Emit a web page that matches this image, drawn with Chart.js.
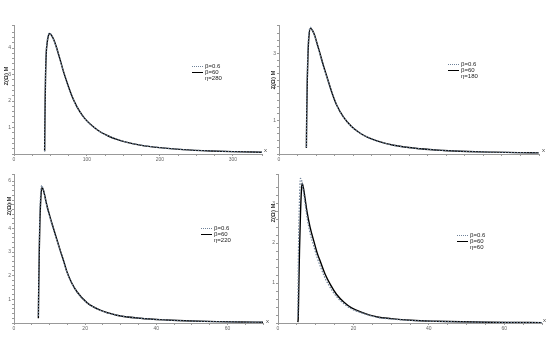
<!DOCTYPE html>
<html>
<head>
<meta charset="utf-8">
<script src="https://cdn.jsdelivr.net/npm/chart.js@4.4.0/dist/chart.umd.min.js"></script>
<style>
body { margin: 0; background: #fff; }
#wrap { position: relative; width: 554px; height: 358px; overflow: hidden; font-family: "Liberation Sans", Arial, sans-serif; }
canvas { position: absolute; }
.ytitle { position: absolute; font-size: 6px; font-weight: bold; color: #333; transform: translate(-50%, -50%) rotate(-90deg); white-space: nowrap; }
.xlab { position: absolute; font-size: 6px; color: #444; }
.leg { position: absolute; font-size: 6px; color: #222; }
.leg .row { display: flex; align-items: center; height: 6px; }
.leg .ln { width: 11px; margin-right: 2px; }
.leg .sp { width: 13px; }
.dot { border-top: 1px dotted #6f8299; }
.sol { border-top: 1.5px solid #000; }
</style>
</head>
<body>
<div id="wrap">
  <canvas id="c1" width="277" height="170" style="left:0;top:0"></canvas>
  <canvas id="c2" width="286" height="170" style="left:268px;top:0"></canvas>
  <canvas id="c3" width="277" height="188" style="left:0;top:170px"></canvas>
  <canvas id="c4" width="286" height="188" style="left:268px;top:170px"></canvas>

  <div class="ytitle" style="left:6px;top:76px">Z(Ω) M</div>
  <div class="ytitle" style="left:273px;top:80px">Z(Ω) M</div>
  <div class="ytitle" style="left:9px;top:206px">Z(Ω) M</div>
  <div class="ytitle" style="left:273px;top:213px">Z(Ω) M</div>

  <div class="xlab" style="left:264px;top:147px">x</div>
  <div class="xlab" style="left:542px;top:147px">x</div>
  <div class="xlab" style="left:266px;top:318px">x</div>
  <div class="xlab" style="left:543px;top:317px">x</div>

  <div class="leg" style="left:192px;top:63px">
    <div class="row"><div class="ln dot"></div>β=0.6</div>
    <div class="row"><div class="ln sol"></div>β=60</div>
    <div class="row"><div class="sp"></div>η=280</div>
  </div>
  <div class="leg" style="left:448px;top:61px">
    <div class="row"><div class="ln dot"></div>β=0.6</div>
    <div class="row"><div class="ln sol"></div>β=60</div>
    <div class="row"><div class="sp"></div>η=180</div>
  </div>
  <div class="leg" style="left:201px;top:225px">
    <div class="row"><div class="ln dot"></div>β=0.6</div>
    <div class="row"><div class="ln sol"></div>β=60</div>
    <div class="row"><div class="sp"></div>η=220</div>
  </div>
  <div class="leg" style="left:457px;top:232px">
    <div class="row"><div class="ln dot"></div>β=0.6</div>
    <div class="row"><div class="ln sol"></div>β=60</div>
    <div class="row"><div class="sp"></div>η=60</div>
  </div>
</div>
<script>
// top left panel
var tlX = [42, 42.3, 42.7, 43.3, 44.2, 45.5, 47, 49, 51, 54, 58, 63, 68, 72, 80, 86, 93, 100, 110, 118, 130, 141, 155, 173, 200, 232, 270, 300, 340];
var tlSolid = [0.1, 1.0, 2.0, 3.0, 3.8, 4.2, 4.45, 4.55, 4.5, 4.35, 4.05, 3.58, 3.1, 2.76, 2.15, 1.8, 1.49, 1.25, 1.0, 0.84, 0.67, 0.55, 0.44, 0.337, 0.24, 0.167, 0.116, 0.09, 0.067];
var tlDotted = [0.1, 1.1, 2.15, 3.15, 3.9, 4.28, 4.5, 4.57, 4.5, 4.33, 4.02, 3.56, 3.08, 2.74, 2.14, 1.79, 1.48, 1.24, 1.0, 0.84, 0.67, 0.55, 0.44, 0.337, 0.24, 0.167, 0.116, 0.09, 0.067];

// top right panel
var trX = [755, 765, 780, 800, 825, 865, 920, 980, 1050, 1130, 1230, 1340, 1460, 1600, 1780, 2000, 2240, 2450, 2700, 3160, 3900, 4540, 5200, 5920, 6600, 7160];
var trSolid = [0.18, 1.2, 2.2, 3.0, 3.5, 3.75, 3.7, 3.55, 3.3, 3.0, 2.62, 2.24, 1.83, 1.44, 1.1, 0.82, 0.62, 0.495, 0.39, 0.26, 0.155, 0.106, 0.075, 0.055, 0.041, 0.034];
var trDotted = [0.2, 1.4, 2.45, 3.2, 3.62, 3.78, 3.69, 3.53, 3.27, 2.97, 2.59, 2.22, 1.82, 1.43, 1.1, 0.82, 0.62, 0.495, 0.39, 0.26, 0.155, 0.106, 0.075, 0.055, 0.041, 0.034];

// bottom left panel
var blX = [6.85, 6.95, 7.1, 7.3, 7.55, 7.8, 8.2, 8.7, 9.2, 10.1, 11.1, 12, 13, 14, 14.8, 16.2, 17.7, 20.5, 24.2, 28.9, 35.5, 43, 50, 57, 64, 70];
var blSolid = [0.2, 1.5, 3.0, 4.4, 5.3, 5.72, 5.65, 5.35, 5.0, 4.5, 4.0, 3.55, 3.07, 2.6, 2.2, 1.7, 1.32, 0.86, 0.54, 0.33, 0.2, 0.125, 0.082, 0.057, 0.042, 0.033];
var blDotted = [0.3, 1.9, 3.5, 4.8, 5.6, 5.82, 5.66, 5.32, 4.96, 4.45, 3.96, 3.52, 3.04, 2.58, 2.19, 1.69, 1.31, 0.86, 0.54, 0.33, 0.2, 0.125, 0.082, 0.057, 0.042, 0.033];

// bottom right panel
var brX = [5.25, 5.35, 5.5, 5.7, 5.95, 6.2, 6.4, 6.8, 7.2, 7.7, 8.5, 9.5, 10.4, 11.3, 12.5, 13.9, 15.5, 17.5, 19.5, 21.9, 26.4, 30, 35.3, 42, 48.6, 56, 63, 70];
var brSolid = [0.02, 0.1, 0.8, 1.8, 2.7, 3.3, 3.5, 3.35, 3.1, 2.78, 2.4, 2.05, 1.75, 1.52, 1.22, 0.96, 0.72, 0.52, 0.38, 0.28, 0.15, 0.11, 0.07, 0.045, 0.03, 0.02, 0.015, 0.01];
var brDotted = [0.15, 1.2, 2.3, 3.1, 3.62, 3.6, 3.5, 3.25, 2.98, 2.65, 2.25, 1.92, 1.63, 1.4, 1.12, 0.88, 0.66, 0.48, 0.35, 0.26, 0.14, 0.1, 0.065, 0.042, 0.028, 0.019, 0.014, 0.01];

function pts(xs, ys) {
  return xs.map(function (x, i) {
    return { x: x, y: ys[i] };
  });
}

function isMajor(v, major) {
  return Math.abs(v / major - Math.round(v / major)) < 1e-6;
}

function makePanel(id, xs, solid, dotted, o) {
  new Chart(document.getElementById(id), {
    type: "line",
    data: {
      datasets: [
        {
          label: "β=0.6",
          data: pts(xs, dotted),
          borderColor: "#6f8299",
          borderWidth: 1.2,
          borderDash: [1.5, 1.5],
          pointRadius: 0,
          cubicInterpolationMode: "monotone",
          fill: false,
        },
        {
          label: "β=60",
          data: pts(xs, solid),
          borderColor: "#000",
          borderWidth: 1.4,
          pointRadius: 0,
          cubicInterpolationMode: "monotone",
          fill: false,
        },
      ],
    },
    options: {
      responsive: false,
      animation: false,
      layout: { padding: { left: 0, top: o.top, right: o.right, bottom: 0 } },
      plugins: { legend: { display: false }, tooltip: { enabled: false } },
      scales: {
        x: {
          type: "linear",
          min: 0,
          max: o.xMax,
          afterFit: function (scale) {
            scale.height = o.xH;
          },
          border: { color: "#999", width: 1 },
          grid: { drawOnChartArea: false, tickLength: 2, color: "#999" },
          ticks: {
            stepSize: o.xStep,
            autoSkip: false,
            maxRotation: 0,
            padding: 1,
            color: "#666",
            font: { size: 5, family: "Liberation Sans" },
            callback: function (v) {
              return isMajor(v, o.xMajor) ? v : "";
            },
          },
        },
        y: {
          min: 0,
          max: o.yMax,
          afterFit: function (scale) {
            scale.width = o.yW;
          },
          border: { color: "#999", width: 1 },
          grid: { drawOnChartArea: false, tickLength: 2, color: "#999" },
          ticks: {
            stepSize: o.yStep,
            autoSkip: false,
            padding: 1,
            color: "#666",
            font: { size: 5, family: "Liberation Sans" },
            callback: function (v) {
              return v !== 0 && isMajor(v, 1) ? v : "";
            },
          },
        },
      },
    },
  });
}

makePanel("c1", tlX, tlSolid, tlDotted, { xMax: 340, xStep: 25, xMajor: 100, yMax: 4.87, yStep: 0.2, yW: 14, xH: 16, top: 25, right: 15 });
makePanel("c2", trX, trSolid, trDotted, { xMax: 7170, xStep: 500, xMajor: 2000, yMax: 3.85, yStep: 0.2, yW: 11, xH: 16, top: 25, right: 15 });
makePanel("c3", blX, blSolid, blDotted, { xMax: 70, xStep: 5, xMajor: 20, yMax: 6.3, yStep: 0.2, yW: 14, xH: 35, top: 2, right: 14 });
makePanel("c4", brX, brSolid, brDotted, { xMax: 70, xStep: 5, xMajor: 20, yMax: 3.73, yStep: 0.2, yW: 10, xH: 35, top: 0, right: 12 });
</script>
</body>
</html>
